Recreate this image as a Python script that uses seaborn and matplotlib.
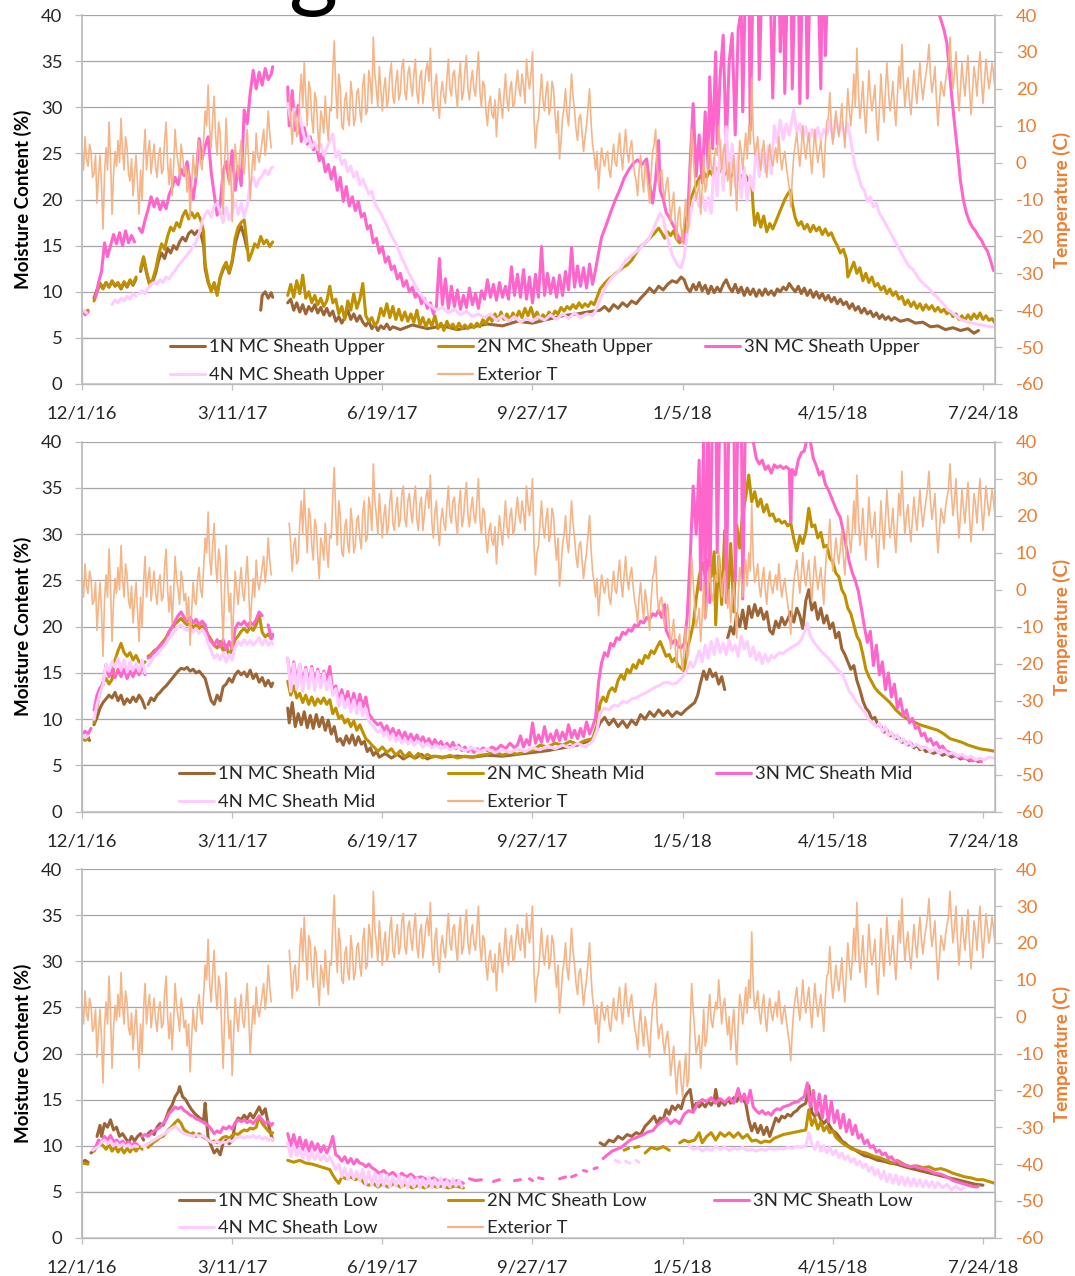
import numpy as np
import pandas as pd
import matplotlib.pyplot as plt
from matplotlib.lines import Line2D
from matplotlib.patches import Rectangle
import seaborn as sns

nan = np.nan

# x axis: days since 12/1/16, labels every 100 days
tick_days = [0, 100, 200, 300, 400, 500, 600]
tick_labels = ['12/1/16', '3/11/17', '6/19/17', '9/27/17', '1/5/18', '4/15/18', '7/24/18']

# Exterior temperature (C), readings on even days (0, 2, 4, ...) from 12/1/16
ext_t = [3, 7, -1, 3, -3, -11, 2, -18, 4, 11,
         -14, 3, 6, 12, -2, 4, -5, -9, 2, -14,
         -10, 9, 3, -3, 5, -4, 4, -2, 11, -6,
         -9, 9, 0, 5, -3, -8, -15, 2, -4, 6,
         -2, 14, 21, 4, 18, 2, 8, -14, 12, -6,
         -16, 5, -4, 6, -3, 9, -10, 3, 8, 0,
         6, 2, 14, 4, nan, nan, nan, nan, nan, 18,
         5, 14, 8, 24, 27, 10, 20, 8, 17, 3,
         12, 18, 6, 14, 33, 12, 20, 9, 19, 10,
         18, 12, 20, 11, 24, 14, 22, 34, 20, 26,
         14, 23, 17, 27, 16, 25, 19, 28, 17, 26,
         18, 28, 16, 25, 20, 27, 31, 14, 24, 12,
         22, 16, 28, 18, 25, 15, 27, 19, 29, 17,
         25, 18, 30, 15, 21, 10, 18, 12, 7, 20,
         12, 24, 14, 22, 16, 25, 18, 21, 28, 20,
         30, 4, 12, 24, 14, 22, 15, 20, 8, 1,
         12, 20, 10, 24, 14, 6, 13, 3, 10, 20,
         5, -2, -7, 4, -1, 3, -4, 5, -1, 8,
         -2, 9, 0, 6, -3, -9, 2, -8, -3, -11,
         3, 9, -6, -2, -10, -4, -16, -8, -21, -12,
         -22, -10, -17, 9, -4, -8, -14, 2, -6, 6,
         -3, 4, 10, -2, 5, -5, -9, 2, -13, 6,
         -2, 8, 10, 23, 2, 7, -2, 6, -4, 5,
         -1, 4, 7, -2, 3, -4, -12, 2, 8, -1,
         10, 1, 8, -3, 9, 0, 6, -4, 11, 19,
         5, 14, 7, 16, 4, 20, 10, 24, 31, 12,
         22, 8, 25, 14, 21, 6, 24, 11, 27, 14,
         22, 10, 26, 32, 15, 23, 13, 25, 16, 27,
         17, 24, 32, 19, 26, 10, 22, 18, 25, 34,
         20, 30, 14, 27, 18, 29, 13, 26, 18, 30,
         16, 28, 20, 27, 20]

# Exterior temperature (C), readings on odd days (1, 3, 5, ...)
ext_t_odd = [-2, 1, 5, -4, 2, -4, -6, -3, -2, 1,
             -3, -1, 0, 3, 7, -3, 1, -3, -6, -2,
             2, -2, 6, 1, -1, 2, -3, 6, 0, 1,
             -1, 3, -4, 2, -1, -2, -6, -3, 3, 0,
             6, 10, 9, 12, 7, 11, -3, 0, 2, -1,
             -5, 0, 2, -1, 3, 0, -3, -2, 2, 3,
             9, 6, 8, nan, nan, nan, nan, nan, nan, 12,
             12, 7, 18, 15, 18, 22, 12, 19, 9, 14,
             8, 11, 15, 25, 20, 24, 10, 17, 12, 22,
             10, 19, 14, 21, 13, 25, 16, 24, 15, 20,
             20, 15, 24, 18, 22, 17, 26, 19, 24, 21,
             24, 19, 23, 16, 25, 22, 18, 21, 16, 19,
             18, 23, 20, 24, 19, 23, 17, 25, 20, 22,
             20, 24, 19, 22, 14, 16, 13, 17, 14, 16,
             18, 17, 20, 15, 21, 20, 24, 16, 23, 24,
             12, 10, 18, 17, 19, 13, 22, 13, 14, 6,
             15, 13, 17, 18, 9, 12, 8, 7, 15, 11,
             2, 3, -1, 1, 2, -2, 1, 0, 4, 2,
             4, 3, 4, 1, -5, -2, -4, 0, -7, -3,
             5, -1, -3, -7, -6, -9, -12, -15, -14, -18,
             -15, -19, -3, 2, -10, -5, -7, -8, 1, -1,
             1, 2, 4, 3, -1, 0, -3, -5, -2, 3,
             3, 1, 5, 8, 4, 1, 3, 0, 2, 1,
             2, 0, 2, 1, -1, -7, -4, 5, 3, 4,
             4, 5, 2, 3, 4, 3, 1, 5, 12, 10,
             9, 10, 11, 9, 12, 14, 16, 15, 20, 16,
             14, 16, 18, 17, 12, 14, 17, 19, 20, 17,
             15, 18, 20, 22, 20, 17, 19, 20, 22, 21,
             21, 27, 24, 22, 17, 16, 20, 22, 27, 26,
             24, 21, 20, 22, 24, 20, 19, 23, 25, 22,
             22, 24, 23, 24]

# Moisture content (%), (day, value) pairs, nan = no data
u1 = [(0, 8.0), (2, 7.6), (4, 7.9), (5, nan),
      (8, 9.3), (10, 10.2), (12, 10.9), (14, 10.4), (16, 11.0), (18, 10.5), (20, 11.1), (22, 10.6), (24, 10.9),
      (26, 10.3), (28, 11.0), (30, 10.5), (32, 11.2), (34, 10.7), (36, 11.4), (37.5, nan),
      (39, 12.2), (41, 13.6), (43, 12.0), (45, 10.8), (47, 11.1), (49, 12.0), (51, 13.4), (53, 14.2), (55, 13.6),
      (57, 14.7), (59, 14.2), (61, 15.0), (63, 14.6), (65, 15.4), (67, 15.9), (69, 15.5), (71, 16.3), (73, 16.6),
      (75, 16.2), (77, 16.6), (79, 16.4), (81, 15.0), (82, 12.5), (84, 11.0), (86, 10.2), (88, 10.9), (90, 9.8),
      (92, 11.5), (94, 12.4), (96, 13.0), (98, 12.0), (100, 13.2), (102, 15.2), (104, 16.4), (106, 17.1),
      (108, 16.0), (110, 14.6), (111, nan),
      (119, 8.0), (120, 9.6), (122, 10.0), (124, 9.3), (126, 9.9), (127, 9.4), (128, nan),
      (137, 8.8), (139, 9.2), (141, 8.0), (143, 8.8), (145, 7.8), (147, 8.6), (149, 7.6), (151, 8.4), (153, 7.9),
      (155, 8.6), (157, 7.7), (159, 8.3), (161, 7.5), (163, 8.2), (165, 7.4), (167, 7.9), (169, 6.8), (171, 7.3),
      (173, 6.6), (175, 7.2), (177, 8.0), (179, 7.0), (181, 7.6), (183, 6.8), (185, 7.4), (187, 6.7), (189, 6.3),
      (191, 6.8), (193, 6.0), (195, 6.5), (197, 5.8), (199, 6.3), (201, 6.0), (203, 6.5), (205, 5.9), (207, 6.2),
      (212, 5.9), (220, 6.4), (230, 6.0), (240, 6.3), (250, 5.9), (260, 6.2), (270, 6.5), (280, 6.3), (290, 6.8),
      (300, 6.6), (310, 7.0), (320, 7.4), (330, 7.6), (340, 7.9),
      (345, 8.0), (348, 8.4), (351, 7.9), (354, 8.6), (357, 8.2), (360, 8.8), (363, 8.4), (366, 9.0), (369, 8.7),
      (372, 9.3), (375, 9.8), (378, 10.4), (381, 9.9), (384, 10.6), (387, 10.2), (390, 10.8), (393, 11.2),
      (396, 11.0), (399, 11.6), (401, 11.3), (403, 10.4), (405, 10.0), (407, 10.8), (409, 10.2), (411, 11.0),
      (413, 10.1), (415, 10.7), (417, 9.8), (419, 10.6), (421, 9.9), (423, 10.5), (425, 10.0), (427, 10.8),
      (429, 11.3), (431, 10.5), (433, 10.0), (435, 10.8), (437, 9.9), (439, 10.5), (441, 9.6), (443, 10.4),
      (445, 9.7), (447, 10.3), (449, 9.5), (451, 10.2), (453, 9.6), (455, 10.3), (457, 9.7), (459, 10.1),
      (461, 9.6), (463, 10.3), (465, 10.0), (467, 10.5), (469, 10.2), (471, 10.9), (473, 10.4), (475, 10.0),
      (477, 10.6), (479, 9.8), (481, 10.4), (483, 9.6), (485, 10.2), (487, 9.4), (489, 10.0), (491, 9.3),
      (493, 9.8), (495, 9.1), (497, 9.6), (499, 8.9), (501, 9.4), (503, 8.7), (505, 9.2), (507, 8.6), (509, 8.9),
      (511, 8.2), (513, 8.7), (515, 8.0), (517, 8.4), (519, 7.7), (521, 8.2), (523, 7.6), (525, 7.9), (527, 7.3),
      (529, 7.7), (531, 7.1), (533, 7.5), (535, 7.0), (537, 7.3), (539, 6.9), (541, 7.2), (545, 6.8), (550, 7.0),
      (555, 6.6), (560, 6.7), (565, 6.2), (570, 6.3), (575, 5.9), (580, 6.1), (585, 5.8), (590, 6.0), (594, 5.5),
      (597, 5.8)]

u2 = [(0, 8.0), (2, 7.7), (4, 8.0), (5, nan),
      (8, 9.0), (10, 10.0), (12, 10.8), (14, 10.3), (16, 11.0), (18, 10.5), (20, 11.2), (22, 10.7), (24, 11.0),
      (26, 10.4), (28, 11.1), (30, 10.6), (32, 11.3), (34, 10.8), (36, 11.6), (37.5, nan),
      (39, 12.5), (41, 13.8), (43, 12.2), (45, 10.9), (47, 11.3), (49, 12.4), (51, 14.0), (53, 15.2), (55, 14.6),
      (57, 16.0), (59, 17.0), (61, 16.6), (63, 17.5), (65, 17.0), (67, 18.2), (69, 18.8), (71, 17.9), (73, 18.6),
      (75, 18.0), (77, 18.5), (79, 17.8), (81, 16.5), (82, 13.0), (84, 11.2), (86, 10.0), (88, 11.0), (90, 9.6),
      (92, 11.6), (94, 12.6), (96, 13.2), (98, 12.1), (100, 13.4), (102, 15.8), (104, 17.0), (106, 17.5),
      (108, 17.8), (109, 16.5), (111, 13.4), (113, 14.2), (115, 15.2), (117, 14.8), (119, 16.0), (121, 15.2),
      (123, 15.6), (125, 14.9), (127, 15.4), (128, nan),
      (137, 9.6), (139, 10.8), (141, 9.4), (143, 11.2), (145, 9.8), (147, 11.8), (149, 9.3), (151, 10.0),
      (153, 8.8), (155, 9.6), (157, 8.6), (159, 9.3), (161, 8.4), (163, 9.0), (165, 10.6), (167, 8.8), (169, 9.2),
      (171, 7.6), (173, 8.4), (175, 7.0), (177, 9.0), (179, 8.0), (181, 9.8), (183, 8.2), (185, 9.2), (187, 10.9),
      (189, 7.4), (191, 6.8), (193, 7.2), (195, 6.3), (197, 6.8), (199, 8.2), (201, 7.4), (203, 8.7), (205, 7.2),
      (207, 8.4), (209, 7.0), (211, 8.1), (213, 6.9), (215, 7.8), (217, 6.8), (219, 7.6), (221, 6.7), (223, 8.0),
      (225, 6.4), (227, 7.2), (229, 6.2), (231, 7.0), (233, 6.3), (235, 7.4), (237, 6.0), (239, 6.6), (241, 5.8),
      (243, 6.8), (245, 6.1), (247, 6.5), (249, 5.9), (251, 6.6), (253, 6.0), (255, 6.4), (257, 6.0), (259, 6.5),
      (261, 6.1), (263, 6.6), (265, 6.2), (267, 7.0), (269, 6.5), (271, 7.3), (273, 6.8), (275, 7.6), (277, 6.9),
      (279, 7.8), (281, 7.0), (283, 7.6), (285, 6.9), (287, 7.7), (289, 7.1), (291, 7.9), (293, 7.2), (295, 8.2),
      (297, 7.4), (299, 8.3), (301, 7.2), (303, 7.8), (305, 7.0), (307, 7.5), (309, 7.1), (311, 7.8), (313, 7.3),
      (315, 7.9), (317, 7.6), (319, 8.3), (321, 7.9), (323, 8.4), (325, 8.1), (327, 8.6), (329, 8.2), (331, 8.8),
      (333, 8.3), (335, 8.7), (337, 8.4), (339, 8.9), (341, 8.6), (343, 9.4), (345, 10.3), (348, 10.9),
      (351, 11.4), (354, 11.8), (357, 12.2), (360, 12.6), (363, 12.9), (366, 13.4), (369, 14.2), (372, 14.9),
      (375, 15.3), (378, 15.8), (381, 16.3), (384, 16.9), (386, 16.4), (388, 15.8), (390, 16.5), (392, 16.1),
      (394, 16.6), (396, 15.7), (398, 15.3), (400, 16.0), (402, 17.5), (404, 19.0), (406, 20.3), (408, 21.2),
      (410, 22.0), (412, 22.6), (414, 23.0), (416, 22.4), (418, 23.1), (420, 22.6), (422, 23.4), (424, 22.9),
      (426, 23.3), (428, 22.7), (430, 23.1), (432, 22.5), (434, 22.9), (436, 22.3), (438, 22.7), (440, 22.2),
      (442, 22.6), (444, 22.0), (446, 21.7), (447, 19.0), (448, 17.2), (450, 18.5), (452, 17.0), (454, 18.2),
      (456, 16.5), (458, 17.4), (460, 16.8), (462, 17.6), (464, 18.4), (466, 19.2), (468, 20.0), (470, 20.6),
      (472, 21.0), (473, 19.5), (475, 18.0), (477, 17.2), (479, 17.6), (481, 16.8), (483, 17.3), (485, 16.5),
      (487, 17.2), (489, 16.6), (491, 17.0), (493, 16.2), (495, 16.8), (497, 16.1), (499, 16.4), (501, 15.6),
      (503, 15.0), (505, 14.2), (507, 14.6), (509, 13.6), (510, 11.6), (512, 12.4), (514, 13.2), (516, 12.0),
      (518, 12.6), (520, 11.2), (522, 12.0), (524, 11.0), (526, 11.6), (528, 10.6), (530, 10.9), (532, 10.2),
      (534, 10.6), (536, 9.8), (538, 10.3), (540, 9.6), (542, 10.0), (544, 9.2), (546, 9.5), (548, 8.6),
      (550, 9.1), (552, 8.4), (554, 8.9), (556, 8.2), (558, 8.7), (560, 8.0), (562, 8.6), (564, 8.1), (566, 8.5),
      (568, 7.9), (570, 8.3), (572, 7.8), (574, 8.1), (576, 7.6), (578, 7.9), (580, 7.3), (582, 7.6), (584, 7.0),
      (586, 7.4), (588, 6.9), (590, 7.5), (592, 7.0), (594, 7.6), (596, 7.1), (598, 7.7), (600, 7.0), (602, 7.4),
      (604, 6.9), (606, 7.1), (608, 6.6)]

u3 = [(0, 8.0), (2, 7.5), (4, 7.8), (5, nan),
      (9, 9.4), (11, 11.0), (13, 12.2), (15, 15.3), (17, 13.8), (19, 15.0), (21, 16.2), (23, 15.2), (25, 16.4),
      (27, 15.0), (29, 16.6), (31, 15.3), (33, 16.1), (35, 15.4), (36.5, nan),
      (38, 16.9), (40, 16.4), (42, 17.8), (44, 18.9), (46, 20.3), (48, 19.2), (50, 20.1), (52, 18.9), (54, 19.8),
      (56, 19.0), (58, 20.5), (60, 21.3), (62, 22.4), (64, 21.6), (66, 23.3), (68, 22.6), (70, 24.1), (72, 21.8),
      (74, 20.0), (76, 22.5), (78, 26.6), (80, 24.4), (82, 25.8), (84, 26.8), (86, 23.0), (88, 20.6), (90, 18.3),
      (92, 19.5), (94, 23.0), (96, 24.1), (98, 22.0), (100, 25.3), (102, 21.0), (104, 23.6), (106, 21.5),
      (108, 29.7), (110, 28.2), (112, 31.5), (114, 34.0), (116, 32.0), (118, 33.8), (120, 32.4), (122, 34.2),
      (124, 33.0), (126, 33.6), (127, 34.4), (128, nan),
      (137, 32.2), (138, 28.0), (140, 31.8), (142, 27.5), (144, 30.2), (146, 26.3), (148, 27.8), (150, 26.0),
      (152, 26.8), (154, 25.4), (156, 25.8), (158, 24.2), (160, 25.0), (162, 23.0), (164, 23.8), (166, 22.2),
      (168, 23.5), (170, 21.0), (172, 22.4), (174, 19.8), (176, 21.4), (178, 19.3), (180, 20.3), (182, 18.8),
      (184, 19.8), (186, 18.1), (188, 18.5), (190, 16.8), (192, 17.2), (194, 15.3), (196, 15.8), (198, 14.2),
      (200, 14.9), (202, 13.2), (204, 13.8), (206, 12.4), (208, 12.8), (210, 11.4), (212, 12.0), (214, 10.6),
      (216, 11.2), (218, 10.0), (220, 10.5), (222, 9.4), (224, 9.9), (226, 8.7), (228, 9.3), (230, 8.2),
      (232, 8.8), (234, 7.6), (236, 8.4), (238, 13.6), (240, 8.6), (242, 11.4), (244, 8.2), (246, 10.6),
      (248, 8.4), (250, 10.2), (252, 8.1), (254, 9.6), (256, 8.3), (258, 10.4), (260, 8.6), (262, 9.8),
      (264, 8.2), (266, 10.1), (268, 9.2), (270, 11.3), (272, 9.4), (274, 10.8), (276, 9.1), (278, 11.0),
      (280, 9.4), (282, 10.6), (284, 9.2), (286, 12.7), (288, 9.6), (290, 11.9), (292, 9.4), (294, 12.4),
      (296, 9.2), (298, 11.6), (300, 8.8), (302, 11.9), (304, 9.4), (306, 14.9), (308, 9.6), (310, 12.0),
      (312, 9.8), (314, 11.5), (316, 9.4), (318, 11.8), (320, 9.6), (322, 12.2), (324, 10.2), (326, 14.8),
      (328, 10.5), (330, 12.8), (332, 10.6), (334, 12.6), (336, 10.4), (338, 13.0), (340, 10.8), (342, 12.4),
      (344, 14.2), (346, 15.9), (349, 17.2), (352, 18.6), (355, 19.9), (358, 21.0), (361, 22.3), (364, 23.2),
      (367, 23.9), (370, 24.3), (373, 23.8), (376, 24.4), (378, 21.7), (380, 19.6), (382, 22.2), (384, 26.4),
      (385, 21.0), (387, 20.1), (389, 18.6), (391, 18.1), (393, 17.4), (395, 16.8), (397, 16.0), (399, 15.6),
      (401, 15.3), (403, 17.0), (405, 24.0), (407, 30.4), (409, 22.5), (411, 27.0), (413, 21.8), (415, 29.5),
      (417, 23.4), (418, 33.3), (420, 25.5), (422, 36.0), (423, 26.0), (425, 33.5), (427, 37.8), (429, 25.7),
      (431, 35.0), (433, 38.0), (435, 27.0), (437, 38.5), (439, 40.5), (440, 29.5), (442, 45), (444, 45),
      (445, 27.5), (447, 45), (450, 45), (451, 33), (453, 45), (458, 45), (460, 31), (462, 45), (464, 45),
      (465, 36), (467, 45), (468, 31.5), (470, 45), (472, 45), (473, 32), (475, 45), (477, 45), (478, 30.4),
      (480, 45), (482, 45), (483, 31), (485, 45), (490, 45), (492, 32), (493, 45), (494, 45), (495, 35.6),
      (497, 45), (568, 45), (571, 40), (574, 38.4), (576, 36.9), (579, 31.5), (581, 28.3), (583, 25.3),
      (585, 22.0), (587, 19.9), (589, 18.5), (591, 17.6), (593, 17.0), (595, 16.6), (597, 16.0), (599, 15.6),
      (601, 14.9), (603, 14.4), (605, 13.4), (607, 12.3)]

u4 = [(0, 8.1), (3, 7.7), (4, nan),
      (20, 8.6), (22, 9.1), (24, 8.8), (26, 9.3), (28, 9.0), (30, 9.5), (32, 9.2), (34, 9.8), (36, 9.5), (37, nan),
      (38, 9.8), (40, 10.1), (42, 9.8), (44, 10.4), (46, 10.8), (48, 11.0), (50, 10.8), (52, 11.3), (54, 11.0),
      (56, 11.6), (58, 11.4), (60, 11.9), (62, 12.3), (64, 12.8), (66, 13.2), (68, 13.6), (70, 14.0), (72, 14.4),
      (74, 14.9), (76, 15.4), (78, 16.3), (80, 17.6), (82, 18.4), (84, 18.8), (86, 18.1), (88, 19.3), (90, 19.6),
      (92, 18.6), (94, 17.5), (96, 19.2), (98, 17.8), (100, 18.6), (102, 19.9), (104, 18.4), (106, 19.6),
      (108, 18.1), (110, 19.4), (112, 21.8), (114, 22.4), (116, 21.4), (118, 22.2), (120, 22.6), (122, 23.2),
      (124, 22.7), (126, 23.4), (127, 23.5), (128, nan),
      (137, 30.4), (139, 28.6), (141, 29.8), (143, 28.0), (145, 29.2), (147, 27.4), (149, 26.2), (151, 26.8),
      (153, 25.6), (155, 26.2), (157, 25.4), (159, 26.0), (161, 24.8), (163, 25.6), (165, 26.4), (167, 27.1),
      (169, 24.6), (171, 25.2), (173, 23.8), (175, 24.3), (177, 23.0), (179, 23.6), (181, 22.4), (183, 23.0),
      (185, 21.6), (187, 22.2), (189, 21.4), (191, 20.6), (193, 20.9), (195, 19.6), (197, 19.0), (199, 18.5),
      (201, 17.8), (203, 17.2), (205, 16.4), (207, 15.8), (209, 15.2), (211, 14.4), (213, 13.6), (215, 13.0),
      (217, 12.2), (219, 11.6), (221, 11.0), (223, 10.4), (225, 9.8), (227, 9.4), (229, 8.9), (231, 8.6),
      (233, 8.4), (236, 8.0), (240, 8.3), (244, 7.7), (248, 8.1), (252, 7.5), (256, 7.9), (260, 7.3), (264, 7.6),
      (268, 7.2), (272, 7.6), (276, 6.9), (280, 7.4), (284, 6.8), (288, 7.3), (292, 6.7), (296, 7.1), (300, 6.8),
      (304, 7.3), (308, 6.9), (312, 7.5), (316, 7.0), (320, 7.6), (324, 7.1), (328, 7.7), (332, 7.2), (336, 7.6),
      (340, 7.4), (343, 8.2), (345, 9.1), (347, 10.0), (350, 10.9), (353, 11.6), (356, 12.0), (359, 12.6),
      (362, 13.4), (365, 13.8), (368, 14.2), (371, 14.6), (374, 15.2), (377, 15.6), (380, 16.6), (383, 17.8),
      (385, 18.5), (387, 18.0), (389, 16.4), (391, 15.2), (393, 14.0), (395, 13.4), (397, 12.8), (399, 12.6),
      (401, 13.8), (403, 16.3), (405, 18.2), (407, 19.9), (409, 20.6), (411, 19.2), (413, 20.4), (415, 18.8),
      (417, 20.2), (419, 18.5), (421, 24.5), (423, 20.4), (425, 26.4), (427, 21.0), (429, 27.9), (431, 22.4),
      (433, 26.0), (435, 21.4), (437, 24.8), (439, 20.2), (441, 23.5), (443, 19.9), (445, 22.6), (447, 21.0),
      (449, 26.0), (451, 22.5), (453, 25.4), (455, 23.0), (457, 25.8), (459, 22.8), (461, 28.0), (463, 26.2),
      (465, 28.6), (467, 26.5), (469, 28.2), (471, 27.0), (473, 28.8), (474, 29.7), (476, 27.2), (478, 28.2),
      (480, 26.8), (482, 27.9), (484, 26.4), (486, 27.6), (488, 26.6), (490, 27.8), (492, 26.5), (494, 27.6),
      (496, 27.0), (498, 28.6), (500, 26.6), (502, 29.0), (504, 27.2), (506, 28.4), (508, 26.8), (510, 28.2),
      (512, 26.4), (513, 25.3), (515, 23.5), (517, 22.6), (519, 21.4), (521, 21.0), (523, 19.8), (525, 20.3),
      (527, 19.2), (529, 19.6), (531, 18.5), (533, 18.0), (535, 17.4), (537, 16.8), (539, 16.2), (541, 15.6),
      (543, 15.0), (545, 14.4), (547, 13.8), (549, 13.2), (551, 12.7), (553, 12.5), (555, 12.0), (557, 11.5),
      (559, 11.1), (561, 10.8), (563, 10.5), (565, 10.2), (567, 9.7), (569, 9.5), (571, 9.1), (573, 8.8),
      (575, 8.4), (577, 8.0), (579, 7.8), (581, 7.5), (583, 7.3), (585, 7.0), (587, 6.9), (590, 6.7), (593, 6.6),
      (596, 6.5), (599, 6.4), (602, 6.3), (605, 6.2), (608, 6.2)]

m1 = [(0, 8.3), (2, 7.9), (4, 8.1), (5, 7.7), (6, nan),
      (8, 9.4), (10, 10.2), (12, 11.2), (14, 11.8), (16, 12.2), (18, 12.6), (20, 12.3), (22, 12.9), (24, 12.0),
      (26, 12.6), (28, 11.6), (30, 12.2), (32, 11.8), (34, 12.4), (36, 11.9), (38, 12.6), (40, 12.1), (42, 11.2),
      (43, nan),
      (44, 11.6), (46, 12.3), (48, 12.0), (50, 12.6), (52, 12.9), (54, 13.3), (56, 13.6), (58, 14.0), (60, 14.4),
      (62, 14.8), (64, 15.2), (66, 15.5), (68, 15.4), (70, 15.6), (72, 15.2), (74, 15.4), (76, 15.0), (78, 15.2),
      (80, 14.8), (82, 14.4), (84, 13.2), (86, 12.0), (88, 11.6), (90, 12.6), (92, 12.0), (94, 13.5), (96, 13.8),
      (98, 14.4), (100, 14.0), (102, 14.8), (104, 15.2), (106, 14.8), (108, 15.1), (110, 14.6), (112, 15.3),
      (114, 14.4), (116, 14.9), (118, 14.0), (120, 14.5), (122, 13.6), (124, 14.2), (126, 13.5), (127, 13.9),
      (128, nan),
      (137, 11.2), (138, 9.6), (140, 11.8), (142, 9.2), (144, 10.6), (146, 9.4), (148, 10.8), (150, 9.1),
      (152, 10.4), (154, 9.0), (156, 10.5), (158, 9.2), (160, 10.2), (162, 8.8), (164, 9.9), (166, 8.4),
      (168, 9.2), (170, 7.6), (172, 7.9), (174, 7.2), (176, 8.2), (178, 7.4), (180, 8.3), (182, 7.2), (184, 8.1),
      (186, 7.3), (188, 7.6), (190, 6.5), (192, 6.9), (194, 6.1), (196, 6.5), (198, 5.9), (202, 6.3), (206, 5.8),
      (210, 6.2), (214, 5.7), (218, 6.1), (222, 5.8), (226, 6.2), (230, 5.7), (234, 6.0), (240, 5.9), (250, 6.0),
      (260, 5.9), (270, 6.1), (280, 6.0), (290, 6.2), (300, 6.4), (310, 6.6), (320, 6.9), (330, 7.2), (340, 7.8),
      (345, 9.6), (348, 10.2), (351, 9.4), (354, 10.0), (357, 9.2), (360, 9.8), (363, 9.1), (366, 9.9),
      (369, 9.4), (372, 10.5), (375, 10.0), (378, 10.8), (381, 10.3), (384, 11.0), (387, 10.4), (390, 10.9),
      (393, 10.3), (396, 10.8), (399, 10.5), (402, 11.0), (405, 11.4), (408, 11.8), (410, 12.6), (412, 14.0),
      (414, 15.2), (416, 14.3), (418, 15.4), (420, 14.6), (422, 15.0), (424, 13.8), (426, 14.6), (428, 13.2),
      (429, nan),
      (430, 18.8), (432, 20.0), (434, 19.2), (436, 21.4), (438, 20.0), (440, 21.8), (442, 19.8), (444, 22.2),
      (446, 21.0), (448, 22.4), (450, 21.2), (452, 22.0), (454, 20.8), (456, 21.6), (458, 19.6), (460, 19.2),
      (462, 20.6), (464, 19.9), (466, 21.0), (468, 20.2), (470, 20.8), (472, 21.6), (474, 20.5), (476, 22.0),
      (478, 21.2), (480, 19.8), (482, 22.8), (484, 24.0), (486, 21.8), (488, 22.6), (490, 20.8), (492, 22.0),
      (494, 20.4), (496, 21.2), (498, 19.8), (500, 20.4), (502, 18.8), (504, 19.4), (506, 17.6), (508, 17.0),
      (510, 16.2), (512, 15.4), (514, 15.8), (516, 14.2), (518, 13.2), (520, 12.0), (522, 11.2), (524, 10.8),
      (526, 10.0), (528, 10.2), (530, 9.4), (532, 9.2), (534, 8.6), (536, 8.8), (538, 8.2), (540, 8.3),
      (542, 7.9), (544, 8.0), (546, 7.5), (548, 7.6), (550, 7.2), (552, 7.4), (554, 6.9), (556, 7.2), (558, 6.7),
      (560, 6.9), (562, 6.5), (564, 6.6), (567, 6.3), (570, 6.5), (573, 6.1), (576, 6.3), (579, 5.9), (582, 6.1),
      (585, 5.7), (588, 5.9), (591, 5.5), (594, 5.7), (597, 5.4), (599, 5.6)]

m2 = [(0, 8.0), (2, 7.7), (4, 7.9), (5, nan),
      (8, 9.6), (10, 11.4), (12, 13.0), (14, 14.0), (16, 14.4), (18, 13.8), (20, 14.3), (22, 16.4), (24, 17.4),
      (26, 18.2), (28, 17.2), (30, 16.8), (32, 17.2), (34, 16.4), (36, 16.9), (38, 16.2), (40, 15.9), (42, 16.2),
      (43, nan),
      (44, 16.8), (46, 17.0), (48, 17.4), (50, 17.6), (52, 18.0), (54, 18.4), (56, 18.8), (58, 19.5), (60, 19.9),
      (62, 20.3), (64, 20.6), (66, 20.9), (68, 20.5), (70, 20.2), (72, 20.4), (74, 19.9), (76, 20.2), (78, 19.8),
      (80, 20.1), (82, 19.8), (84, 19.1), (86, 18.6), (88, 18.0), (90, 17.7), (92, 18.4), (94, 17.4), (96, 18.0),
      (98, 16.9), (100, 17.6), (102, 18.6), (104, 19.0), (106, 19.5), (108, 19.8), (110, 19.4), (112, 20.0),
      (114, 19.6), (116, 20.2), (118, 21.3), (120, 19.4), (122, 18.9), (124, 19.2), (126, 18.7), (127, 19.0),
      (128, nan),
      (137, 14.1), (139, 12.6), (141, 13.6), (143, 12.3), (145, 12.8), (147, 11.8), (149, 12.6), (151, 11.6),
      (153, 12.4), (155, 11.5), (157, 12.2), (159, 11.7), (161, 12.3), (163, 11.6), (165, 12.1), (167, 10.6),
      (169, 11.2), (171, 10.1), (173, 10.4), (175, 9.6), (177, 10.0), (179, 9.2), (181, 9.8), (183, 8.8),
      (185, 9.4), (187, 8.6), (189, 7.9), (191, 7.6), (193, 7.2), (195, 6.9), (197, 6.5), (200, 7.0), (203, 6.4),
      (206, 6.8), (209, 6.1), (212, 6.6), (215, 5.9), (218, 6.4), (221, 5.8), (224, 6.3), (227, 5.8), (230, 6.2),
      (233, 5.9), (236, 6.0), (240, 5.8), (245, 6.1), (250, 5.8), (255, 6.0), (260, 5.9), (265, 6.1), (270, 6.2),
      (275, 6.5), (280, 6.1), (285, 6.4), (290, 6.2), (295, 6.5), (300, 6.6), (305, 7.2), (310, 7.0), (315, 7.4),
      (320, 7.2), (325, 7.6), (330, 7.3), (335, 7.7), (340, 7.9), (343, 9.4), (345, 11.7), (347, 12.4),
      (349, 11.9), (351, 13.0), (353, 13.4), (355, 13.0), (357, 14.2), (359, 14.8), (361, 14.3), (363, 15.4),
      (365, 15.0), (367, 15.9), (369, 15.5), (371, 16.4), (373, 16.0), (375, 16.9), (377, 16.6), (379, 17.4),
      (381, 17.1), (383, 17.8), (385, 18.4), (387, 17.6), (389, 16.8), (391, 17.0), (393, 16.2), (395, 16.6),
      (397, 15.8), (399, 15.5), (401, 15.2), (403, 17.6), (405, 18.8), (407, 20.2), (409, 23.0), (411, 25.4),
      (413, 26.9), (415, 25.6), (417, 27.2), (419, 25.4), (421, 28.1), (422, 20.2), (424, 27.6), (426, 22.4),
      (428, 30.4), (430, 23.0), (432, 29.0), (434, 21.6), (436, 31.0), (438, 28.5), (440, 32.4), (442, 34.0),
      (444, 36.4), (446, 33.5), (448, 34.6), (450, 33.0), (452, 33.8), (454, 32.4), (456, 33.2), (458, 32.0),
      (460, 32.2), (462, 31.4), (464, 31.6), (466, 31.2), (468, 31.4), (470, 30.9), (472, 31.2), (474, 29.5),
      (476, 28.2), (478, 29.8), (480, 29.0), (482, 30.2), (484, 32.8), (486, 30.8), (488, 31.0), (490, 29.6),
      (492, 30.2), (494, 28.6), (496, 28.8), (498, 27.4), (500, 27.0), (502, 25.8), (504, 25.4), (506, 24.0),
      (508, 23.4), (510, 22.0), (512, 21.4), (514, 20.2), (516, 19.0), (518, 18.4), (520, 17.0), (522, 15.4),
      (524, 14.6), (526, 14.0), (528, 13.4), (530, 13.0), (534, 12.4), (538, 11.8), (542, 11.0), (546, 10.4),
      (550, 10.0), (554, 9.7), (558, 9.4), (562, 9.2), (566, 9.0), (570, 8.8), (574, 8.4), (578, 7.9),
      (582, 7.7), (586, 7.5), (590, 7.2), (594, 7.0), (598, 6.8), (602, 6.7), (606, 6.6), (608, 6.5)]

m3 = [(0, 8.3), (2, 8.7), (4, 8.4), (6, 9.0), (7, nan),
      (8, 11.0), (10, 12.6), (12, 13.4), (14, 13.7), (16, 15.9), (18, 14.6), (20, 15.4), (22, 14.5), (24, 15.4),
      (26, 14.6), (28, 15.4), (30, 14.4), (32, 15.2), (34, 14.6), (36, 15.5), (38, 14.8), (40, 15.9), (42, 14.8),
      (43, nan),
      (44, 16.6), (46, 16.8), (48, 17.2), (50, 17.6), (52, 17.9), (54, 18.2), (56, 18.5), (58, 19.4), (60, 20.0),
      (62, 20.6), (64, 21.2), (66, 21.6), (68, 21.0), (70, 20.6), (72, 21.0), (74, 20.4), (76, 20.8), (78, 20.2),
      (80, 20.6), (82, 20.2), (84, 18.8), (86, 18.4), (88, 18.0), (90, 18.6), (92, 17.8), (94, 18.6), (96, 17.5),
      (98, 18.4), (100, 17.6), (102, 19.8), (104, 20.4), (106, 20.2), (108, 20.6), (110, 20.1), (112, 20.5),
      (114, 20.2), (116, 20.8), (118, 21.6), (120, 21.2), (121, nan),
      (124, 20.2), (126, 18.7), (127, 19.2), (128, nan),
      (137, 16.6), (139, 13.8), (141, 16.2), (143, 14.0), (145, 15.9), (147, 13.8), (149, 15.6), (151, 13.9),
      (153, 15.7), (155, 14.0), (157, 15.4), (159, 13.7), (161, 15.2), (163, 14.2), (165, 15.7), (167, 13.0),
      (169, 13.6), (171, 12.0), (173, 13.2), (175, 11.9), (177, 13.0), (179, 11.4), (181, 12.8), (183, 11.2),
      (185, 12.7), (187, 11.3), (189, 12.4), (191, 10.6), (193, 10.1), (195, 9.7), (197, 9.4), (199, 9.6),
      (201, 8.8), (203, 9.3), (205, 8.4), (207, 9.0), (209, 8.2), (211, 8.8), (213, 7.9), (215, 8.6), (217, 7.8),
      (219, 8.4), (221, 7.7), (223, 8.3), (225, 7.5), (227, 8.1), (229, 7.4), (231, 7.9), (233, 7.2), (235, 7.8),
      (237, 7.2), (239, 7.6), (241, 7.0), (243, 7.4), (245, 6.9), (247, 7.5), (249, 6.8), (251, 7.2), (253, 6.6),
      (255, 7.0), (257, 6.5), (259, 6.9), (261, 6.4), (263, 6.8), (265, 6.5), (267, 6.9), (270, 6.6), (273, 7.0),
      (276, 6.7), (279, 7.2), (282, 6.8), (285, 7.4), (288, 6.9), (290, 7.2), (292, 8.2), (294, 7.0), (296, 7.8),
      (298, 7.2), (300, 9.6), (302, 7.4), (304, 8.3), (306, 7.5), (308, 9.2), (310, 7.6), (312, 8.4), (314, 7.6),
      (316, 8.8), (318, 7.7), (320, 8.6), (322, 7.8), (324, 9.4), (326, 8.0), (328, 8.8), (330, 7.9), (332, 9.0),
      (334, 8.1), (336, 9.7), (338, 8.4), (340, 9.2), (342, 10.2), (344, 14.0), (346, 16.1), (348, 17.2),
      (350, 16.8), (352, 18.2), (354, 17.9), (356, 18.8), (358, 18.6), (360, 19.4), (362, 19.2), (364, 19.7),
      (366, 19.5), (368, 20.2), (370, 20.0), (372, 20.6), (374, 20.4), (376, 21.0), (378, 20.8), (380, 21.4),
      (382, 21.2), (384, 21.8), (386, 21.0), (388, 22.4), (389, 19.6), (391, 18.9), (393, 18.2), (395, 18.6),
      (397, 17.9), (399, 17.7), (401, 18.2), (403, 21.0), (405, 27.4), (407, 35.2), (409, 30.0), (411, 38.0),
      (412, 24.0), (414, 40.5), (415, 21.0), (417, 45), (418, 22.6), (420, 45), (422, 45), (423, 28.0),
      (425, 45), (428, 45), (429, 22.6), (431, 45), (434, 45), (435, 25.0), (437, 45), (439, 45), (440, 23.0),
      (442, 45), (445, 45), (447, 40.0), (449, 38.2), (451, 37.6), (453, 38.0), (455, 37.0), (457, 37.4),
      (459, 36.6), (461, 37.5), (463, 37.2), (465, 37.4), (467, 37.1), (469, 37.3), (471, 37.0), (472, 31.3),
      (473, 37.0), (475, 36.4), (477, 38.0), (479, 38.8), (481, 39.0), (483, 40.5), (485, 40.0), (487, 38.2),
      (489, 37.4), (491, 36.4), (493, 36.8), (495, 35.4), (497, 34.8), (499, 34.0), (501, 33.2), (503, 32.4),
      (505, 31.8), (507, 30.2), (509, 28.6), (511, 27.0), (513, 25.8), (515, 25.0), (517, 23.8), (519, 22.0),
      (521, 20.0), (523, 18.3), (525, 19.5), (527, 15.8), (529, 18.0), (531, 14.8), (533, 16.2), (535, 13.2),
      (537, 15.0), (539, 12.4), (541, 13.8), (543, 11.2), (545, 12.2), (547, 10.4), (549, 11.0), (551, 9.6),
      (553, 10.1), (555, 9.0), (557, 9.2), (559, 8.2), (561, 8.5), (563, 7.6), (565, 7.9), (567, 7.2),
      (569, 7.5), (571, 6.9), (573, 7.1), (575, 6.6), (578, 6.4), (581, 6.1), (584, 5.9), (587, 5.8), (590, 5.7),
      (593, 5.5), (596, 5.6), (599, 5.4)]

m4 = [(0, 8.3), (2, 8.0), (4, 8.2), (5, nan),
      (8, 10.0), (10, 11.6), (12, 12.8), (14, 13.7), (16, 15.9), (18, 15.2), (20, 16.2), (22, 15.6), (24, 16.6),
      (26, 15.4), (28, 16.4), (30, 15.1), (32, 16.2), (34, 15.3), (36, 16.0), (38, 15.2), (40, 16.4), (42, 15.0),
      (43, nan),
      (44, 15.8), (46, 16.2), (48, 16.8), (50, 17.0), (52, 17.4), (54, 17.8), (56, 18.2), (58, 18.8), (60, 19.1),
      (62, 19.6), (64, 20.0), (66, 20.2), (68, 19.8), (70, 19.6), (72, 19.9), (74, 19.4), (76, 19.8), (78, 19.3),
      (80, 19.7), (82, 19.2), (84, 18.2), (86, 17.4), (88, 16.6), (90, 17.0), (92, 16.4), (94, 17.2), (96, 16.2),
      (98, 17.0), (100, 16.4), (102, 17.8), (104, 18.4), (106, 18.0), (108, 18.6), (110, 18.1), (112, 18.5),
      (114, 18.0), (116, 18.4), (118, 18.8), (120, 18.0), (122, 18.6), (124, 18.0), (126, 18.4), (127, 18.1),
      (128, nan),
      (137, 16.6), (139, 13.0), (141, 16.0), (143, 13.2), (145, 15.9), (147, 13.0), (149, 15.4), (151, 13.3),
      (153, 15.5), (155, 13.1), (157, 15.2), (159, 13.4), (161, 15.0), (163, 13.2), (165, 14.6), (167, 12.6),
      (169, 13.3), (171, 11.4), (173, 12.6), (175, 11.2), (177, 12.2), (179, 10.8), (181, 12.1), (183, 10.6),
      (185, 11.8), (187, 10.4), (189, 11.2), (191, 9.8), (193, 9.4), (195, 9.0), (197, 8.6), (199, 8.9),
      (201, 8.2), (203, 8.6), (205, 7.8), (207, 8.4), (209, 7.6), (211, 8.1), (213, 7.4), (215, 7.9), (217, 7.3),
      (219, 7.7), (221, 7.2), (224, 7.6), (227, 7.0), (230, 7.4), (233, 6.9), (236, 7.2), (239, 6.8), (242, 7.1),
      (245, 6.7), (250, 7.0), (255, 6.6), (260, 6.9), (265, 6.5), (270, 6.8), (275, 6.4), (280, 6.7), (285, 6.4),
      (290, 6.8), (295, 6.5), (300, 6.9), (305, 6.7), (310, 7.1), (315, 6.8), (320, 7.2), (325, 6.9), (330, 7.4),
      (335, 7.0), (340, 7.6), (343, 8.8), (345, 10.7), (348, 11.2), (351, 11.0), (354, 11.5), (357, 11.4),
      (360, 11.9), (363, 11.8), (366, 12.2), (369, 12.3), (372, 12.6), (375, 12.8), (378, 13.1), (381, 13.4),
      (384, 13.6), (387, 13.9), (390, 14.0), (393, 13.8), (396, 13.9), (399, 14.4), (401, 14.8), (403, 15.4),
      (405, 16.2), (407, 15.6), (409, 16.4), (411, 17.4), (413, 16.2), (415, 18.0), (417, 16.6), (419, 18.4),
      (421, 17.0), (423, 18.7), (425, 17.2), (427, 18.2), (429, 17.0), (431, 18.6), (433, 17.4), (435, 18.0),
      (437, 16.8), (439, 19.0), (441, 17.6), (443, 18.4), (445, 16.8), (447, 17.8), (449, 16.4), (451, 17.2),
      (453, 16.0), (455, 17.0), (457, 16.2), (459, 16.9), (461, 16.6), (463, 17.0), (465, 17.2), (467, 17.1),
      (469, 17.4), (471, 17.6), (473, 17.8), (475, 18.0), (477, 18.2), (479, 18.6), (481, 19.4), (483, 20.4),
      (485, 19.0), (487, 18.4), (489, 18.0), (491, 17.6), (493, 17.2), (495, 16.9), (497, 16.6), (499, 16.2),
      (501, 15.8), (503, 15.4), (505, 15.1), (507, 14.6), (509, 13.8), (511, 13.0), (513, 12.6), (515, 12.0),
      (517, 11.6), (519, 11.2), (521, 10.8), (523, 10.2), (525, 9.8), (527, 9.5), (529, 9.2), (531, 9.6),
      (533, 8.6), (535, 9.2), (537, 8.2), (539, 8.6), (541, 7.9), (543, 8.3), (545, 7.5), (547, 7.9), (549, 7.2),
      (551, 7.6), (553, 7.0), (556, 7.3), (559, 6.8), (562, 7.0), (565, 6.5), (568, 6.8), (571, 6.3), (574, 6.6),
      (577, 6.2), (580, 6.4), (583, 6.0), (586, 6.2), (589, 5.8), (592, 6.0), (595, 5.6), (598, 5.8), (601, 5.6),
      (604, 5.9), (607, 5.8)]

l1 = [(0, 8.1), (2, 8.4), (4, 8.2), (5, nan),
      (6, 9.2), (8, 9.5), (9, nan),
      (10, 11.0), (12, 12.2), (13, 11.0), (15, 12.4), (17, 12.0), (19, 12.8), (21, 11.7), (23, 12.0), (25, 11.0),
      (27, 11.3), (29, 10.8), (31, 10.3), (33, 11.0), (35, 10.5), (37, 11.0), (39, 11.3), (41, 10.6), (42, nan),
      (44, 11.3), (46, 11.6), (48, 11.2), (50, 12.0), (52, 12.4), (54, 12.2), (56, 13.0), (58, 13.9), (60, 14.4),
      (62, 15.3), (64, 15.8), (65, 16.4), (67, 15.3), (69, 15.0), (71, 14.4), (73, 13.9), (75, 13.5), (77, 13.2),
      (79, 12.9), (81, 12.8), (82, 14.6), (84, 10.8), (86, 10.0), (88, 9.2), (90, 9.6), (92, 9.0), (94, 10.3),
      (96, 10.6), (98, 10.2), (100, 10.5), (102, 12.4), (104, 13.0), (106, 12.8), (108, 13.3), (110, 12.9),
      (112, 13.5), (114, 13.0), (116, 13.6), (118, 14.2), (120, 13.4), (122, 14.0), (123, 13.2), (125, 11.7),
      (127, 10.6), (128, nan),
      (345, 10.3), (348, 10.0), (351, 10.6), (354, 10.4), (357, 11.0), (360, 10.7), (363, 11.2), (366, 11.0),
      (369, 11.4), (372, 11.2), (375, 12.1), (378, 12.6), (381, 13.2), (383, 12.4), (385, 13.0), (387, 12.8),
      (389, 13.9), (391, 13.4), (393, 14.3), (395, 13.9), (397, 14.4), (399, 14.0), (401, 15.2), (403, 15.7),
      (405, 16.1), (407, 13.9), (409, 14.6), (411, 14.2), (413, 14.6), (415, 14.2), (417, 14.8), (419, 14.4),
      (421, 14.9), (422, 16.1), (424, 14.3), (426, 14.8), (428, 14.4), (430, 15.0), (432, 14.6), (434, 15.2),
      (436, 14.8), (438, 15.4), (440, 15.0), (442, 14.6), (444, 12.8), (446, 11.6), (448, 12.4), (450, 11.4),
      (452, 12.2), (454, 11.2), (456, 12.0), (458, 11.0), (460, 12.0), (462, 13.0), (464, 12.6), (466, 13.2),
      (468, 13.0), (470, 13.4), (472, 13.2), (474, 13.6), (476, 13.8), (478, 14.2), (480, 14.4), (482, 14.6),
      (484, 16.5), (486, 13.6), (488, 13.2), (490, 13.6), (492, 12.8), (494, 12.4), (496, 12.8), (498, 12.1),
      (500, 11.6), (502, 11.4), (504, 11.0), (506, 10.5), (508, 10.3), (510, 10.0), (512, 9.8), (514, 9.6),
      (516, 9.4), (518, 9.2), (521, 8.9), (524, 8.8), (527, 8.6), (530, 8.4), (534, 8.3), (538, 8.1), (542, 8.0),
      (546, 7.8), (550, 7.6), (555, 7.4), (560, 7.2), (565, 7.0), (570, 6.8), (575, 6.6), (580, 6.4), (585, 6.2),
      (590, 6.0), (595, 5.8), (600, 5.7)]

l2 = [(0, 8.1), (4, 8.0), (5, nan),
      (8, 9.4), (10, 9.9), (12, 10.3), (14, 10.0), (16, 9.6), (18, 10.1), (20, 9.4), (22, 9.9), (24, 9.3),
      (26, 9.8), (28, 9.2), (30, 9.7), (32, 9.3), (34, 9.8), (36, 9.4), (38, 9.9), (40, 9.6), (42, nan),
      (44, 9.8), (46, 10.1), (48, 10.4), (50, 10.6), (52, 10.9), (54, 11.0), (56, 11.4), (58, 11.8), (60, 12.1),
      (62, 12.5), (64, 12.8), (66, 12.4), (68, 11.7), (70, 11.5), (72, 11.2), (74, 11.4), (76, 11.0), (78, 11.3),
      (80, 11.0), (82, 10.8), (84, 10.6), (86, 10.4), (88, 10.5), (90, 10.3), (92, 10.6), (94, 10.9), (96, 11.0),
      (98, 10.8), (100, 11.1), (102, 11.3), (104, 11.2), (106, 11.5), (108, 11.7), (110, 11.6), (112, 11.9),
      (114, 11.8), (116, 12.0), (118, 13.2), (120, 12.4), (122, 12.0), (124, 11.6), (126, 11.3), (127, 11.4),
      (128, nan),
      (137, 8.4), (141, 8.2), (145, 8.4), (149, 8.1), (153, 8.0), (157, 7.8), (161, 7.6), (165, 7.4), (167, 6.8),
      (169, 6.3), (171, 5.9), (173, 6.6), (176, 6.4), (179, 6.6), (182, 6.3), (185, 6.5), (188, 5.9), (191, 5.7),
      (194, 5.9), (197, 5.5), (200, 5.8), (204, 5.5), (208, 5.9), (212, 5.5), (216, 5.8), (220, 5.4), (224, 5.7),
      (228, 5.4), (232, 5.7), (236, 5.5), (240, 5.6), (244, 5.4), (248, 5.6), (252, 5.5), (254, 5.4), (255, nan),
      (361, 9.5), (364, 9.7), (366, nan), (368, 9.8), (371, 9.9), (373, nan),
      (375, 9.2), (379, 9.8), (383, 9.6), (387, 9.9), (391, 9.5), (392, nan),
      (398, 10.3), (401, 10.6), (404, 10.4), (408, 10.6), (411, 11.4), (413, 10.3), (416, 11.0), (419, 11.4),
      (422, 10.6), (425, 11.4), (428, 11.0), (431, 11.4), (434, 10.9), (437, 11.4), (440, 10.8), (443, 11.2),
      (446, 10.5), (449, 10.6), (452, 10.3), (455, 10.5), (458, 10.4), (461, 10.8), (464, 11.0), (467, 11.2),
      (470, 11.3), (473, 11.4), (476, 11.5), (479, 11.6), (482, 11.7), (484, 13.9), (486, 12.2), (488, 13.0),
      (490, 11.8), (492, 12.6), (494, 11.6), (496, 12.1), (498, 11.4), (500, 11.6), (502, 10.9), (504, 10.6),
      (507, 10.2), (510, 9.9), (513, 9.6), (516, 9.5), (519, 9.3), (522, 9.2), (525, 9.0), (528, 8.8),
      (531, 8.7), (534, 8.5), (537, 8.3), (540, 8.1), (544, 8.3), (548, 7.9), (552, 7.7), (556, 7.8), (560, 7.6),
      (564, 7.7), (568, 7.4), (572, 7.5), (576, 7.3), (580, 7.0), (584, 6.8), (588, 6.6), (592, 6.5), (596, 6.3),
      (600, 6.3), (604, 6.1), (608, 5.9)]

l3 = [(7, 9.5), (9, 9.8), (11, 10.6), (13, 10.3), (15, 11.0), (17, 10.6), (19, 11.1), (21, 10.4), (23, 10.6),
      (25, 10.2), (27, 10.5), (29, 10.1), (31, 10.4), (33, 10.0), (35, 10.3), (37, 10.1), (38, nan),
      (40, 11.0), (42, 11.2), (44, 11.0), (46, 11.3), (48, 11.6), (50, 11.8), (52, 12.0), (54, 12.4), (56, 12.8),
      (58, 13.5), (60, 13.8), (62, 14.2), (64, 14.0), (66, 14.2), (68, 13.8), (70, 13.6), (72, 13.3), (74, 13.2),
      (76, 12.9), (78, 12.8), (80, 12.6), (82, 12.4), (84, 12.2), (86, 11.8), (88, 11.3), (90, 11.6), (92, 11.4),
      (94, 12.0), (96, 11.8), (98, 12.1), (100, 11.8), (102, 12.5), (104, 12.8), (106, 12.6), (108, 12.8),
      (110, 12.5), (112, 12.7), (114, 12.4), (116, 12.8), (118, 13.2), (120, 12.8), (122, 12.4), (124, 12.6),
      (126, 12.2), (127, 12.4), (128, nan),
      (137, 11.3), (139, 10.0), (141, 11.2), (143, 9.8), (145, 10.9), (147, 9.6), (149, 10.6), (151, 9.4),
      (153, 10.4), (155, 9.5), (157, 10.2), (159, 9.3), (161, 10.0), (163, 9.2), (165, 9.9), (167, 11.0),
      (169, 9.0), (171, 8.8), (173, 8.3), (175, 8.8), (177, 8.1), (179, 8.6), (181, 8.0), (183, 8.5), (185, 8.1),
      (187, 8.0), (189, 7.7), (191, 8.0), (193, 7.6), (195, 7.4), (198, 7.0), (201, 7.3), (204, 6.8), (207, 7.1),
      (210, 6.6), (213, 7.0), (216, 6.6), (219, 6.9), (222, 6.5), (226, 6.6), (230, 6.3), (234, 6.5), (238, 6.1),
      (242, 6.3), (246, 6.0), (250, 6.2), (254, 5.9), (255, nan),
      (258, 6.4), (262, 6.2), (266, 6.3), (267, nan), (274, 6.1), (278, 6.3), (279, nan),
      (288, 6.2), (292, 6.3), (293, nan), (298, 6.4), (300, 6.2), (301, nan), (304, 6.5), (307, 6.4), (308, nan),
      (318, 6.4), (322, 6.6), (323, nan), (326, 6.6), (329, 6.8), (330, nan), (334, 7.3), (336, 7.2), (337, nan),
      (341, 7.5), (343, 7.6), (344, nan),
      (347, 8.6), (350, 9.0), (353, 9.4), (356, 9.6), (359, 9.8), (362, 10.2), (365, 10.6), (368, 10.8),
      (371, 11.0), (374, 11.2), (377, 11.5), (380, 11.6), (383, 12.2), (386, 12.6), (389, 13.0), (392, 12.4),
      (395, 12.8), (398, 12.4), (401, 13.4), (404, 13.8), (407, 13.6), (410, 14.6), (413, 15.0), (416, 14.8),
      (419, 15.2), (422, 14.6), (425, 15.1), (428, 14.7), (431, 15.2), (434, 14.6), (437, 16.2), (439, 14.8),
      (441, 15.6), (443, 14.6), (445, 16.0), (447, 14.2), (449, 13.8), (451, 13.5), (453, 13.8), (455, 13.4),
      (457, 13.6), (459, 13.3), (461, 13.8), (463, 14.0), (465, 13.9), (467, 14.2), (469, 14.3), (471, 14.4),
      (473, 14.6), (475, 14.7), (477, 14.8), (479, 15.1), (481, 15.3), (483, 16.8), (485, 14.2), (487, 16.0),
      (489, 13.4), (491, 15.6), (493, 13.0), (495, 15.4), (497, 12.6), (499, 14.8), (501, 12.5), (503, 13.8),
      (505, 11.9), (507, 13.4), (509, 11.5), (511, 12.8), (513, 11.2), (515, 12.2), (517, 10.8), (519, 11.2),
      (521, 10.2), (523, 10.6), (525, 9.8), (527, 10.0), (529, 9.3), (531, 9.5), (533, 9.0), (535, 9.2),
      (537, 8.6), (539, 8.8), (541, 8.3), (543, 8.4), (545, 8.0), (548, 7.9), (551, 7.7), (554, 7.8), (557, 7.6),
      (560, 7.5), (564, 7.3), (568, 7.0), (572, 6.9), (576, 6.6), (580, 6.2), (584, 6.0), (588, 5.8), (592, 5.6),
      (596, 5.5), (597, 5.6)]

l4 = [(7, 9.5), (9, 9.7), (11, 9.9), (13, 10.4), (15, 10.6), (17, 10.2), (19, 10.5), (21, 10.0), (23, 10.3),
      (25, 9.9), (27, 10.2), (29, 9.9), (31, 10.1), (33, 9.8), (35, 10.0), (37, 9.9), (38, nan),
      (40, 9.9), (42, 10.0), (44, 10.2), (46, 10.4), (48, 10.6), (50, 10.8), (52, 11.0), (54, 11.2), (56, 11.4),
      (58, 11.7), (60, 11.9), (62, 12.1), (64, 11.8), (66, 11.5), (68, 11.3), (70, 11.2), (72, 11.1), (74, 11.0),
      (76, 11.2), (78, 11.0), (80, 11.1), (82, 10.9), (84, 10.6), (86, 10.4), (88, 10.3), (90, 10.5), (92, 10.2),
      (94, 10.4), (96, 10.3), (98, 10.6), (100, 10.4), (102, 10.8), (104, 10.9), (106, 11.0), (108, 10.8),
      (110, 11.0), (112, 10.9), (114, 11.1), (116, 10.8), (118, 11.0), (120, 10.7), (122, 10.9), (124, 10.6),
      (126, 10.8), (127, 10.6), (128, nan),
      (137, 10.3), (139, 8.8), (141, 10.0), (143, 8.9), (145, 9.6), (147, 8.6), (149, 9.5), (151, 8.4),
      (153, 9.3), (155, 8.5), (157, 9.2), (159, 8.4), (161, 9.0), (163, 8.3), (165, 8.8), (167, 8.1), (169, 7.4),
      (171, 8.0), (173, 6.6), (175, 7.6), (177, 6.3), (179, 7.4), (181, 6.4), (183, 7.2), (185, 6.2), (187, 7.4),
      (189, 5.8), (191, 7.2), (193, 5.7), (195, 7.0), (197, 5.6), (199, 6.9), (201, 5.6), (203, 6.8), (205, 5.5),
      (207, 6.6), (209, 5.6), (211, 6.8), (213, 5.5), (215, 6.5), (217, 5.4), (219, 6.6), (221, 5.5), (223, 6.5),
      (225, 5.4), (227, 6.4), (229, 5.5), (231, 6.6), (233, 5.4), (235, 6.3), (237, 5.5), (239, 6.5), (241, 5.4),
      (243, 6.2), (245, 5.5), (247, 6.4), (249, 5.6), (251, 6.2), (253, 5.5), (254, nan),
      (355, 8.4), (358, 8.2), (359, nan), (362, 8.3), (365, 8.1), (366, nan), (369, 8.4), (371, 8.2), (372, nan),
      (404, 10.0), (407, 9.6), (410, 9.8), (413, 9.4), (416, 9.7), (419, 9.5), (422, 9.9), (425, 9.6), (428, 9.8),
      (431, 9.5), (434, 9.7), (437, 9.6), (440, 9.8), (443, 9.5), (446, 9.6), (449, 9.4), (452, 9.6), (455, 9.5),
      (458, 9.7), (461, 9.6), (464, 9.7), (467, 9.6), (470, 9.8), (473, 9.7), (476, 9.9), (479, 9.8), (482, 10.0),
      (484, 11.4), (486, 10.2), (488, 9.6), (490, 10.4), (492, 9.4), (494, 10.0), (496, 9.2), (498, 9.8),
      (500, 9.0), (502, 9.5), (504, 8.7), (506, 9.2), (508, 8.5), (510, 8.9), (512, 8.2), (514, 8.6), (516, 7.9),
      (518, 8.3), (520, 7.6), (522, 8.0), (524, 7.2), (526, 7.7), (528, 6.8), (530, 7.4), (532, 6.4), (534, 7.2),
      (536, 6.1), (538, 6.9), (540, 5.9), (542, 6.8), (544, 5.8), (546, 6.6), (548, 5.7), (550, 6.5), (552, 5.6),
      (554, 6.4), (556, 5.6), (558, 6.3), (560, 5.5), (562, 6.2), (564, 5.5), (566, 6.1), (568, 5.4), (570, 6.0),
      (573, 5.4), (576, 5.8), (579, 5.2), (582, 5.6), (585, 5.2), (587, 5.4)]

levels = ['Upper', 'Mid', 'Low']
panel_series = [[u1, u2, u3, u4], [m1, m2, m3, m4], [l1, l2, l3, l4]]
colors = ['#9C6535', '#BF9000', '#FF66CC', '#FFCCFF']
t_color = '#F4B183'
axis_orange = '#ED7D31'


def to_frame(points, name, ycol):
    df = pd.DataFrame(points, columns=['day', ycol]).sort_values('day')
    df['seg'] = df[ycol].isna().cumsum()
    df = df.dropna()
    df['series'] = name
    return df


t_points = list(zip(range(0, 2 * len(ext_t), 2), ext_t)) + \
    list(zip(range(1, 2 * len(ext_t_odd), 2), ext_t_odd))
temp_df = to_frame(t_points, 'Exterior T', 't')

sns.set_style('white')
plt.rcParams['font.family'] = ['Lato', 'DejaVu Sans']
plt.rcParams['axes.unicode_minus'] = False

W, H = 1075, 1276
fig = plt.figure(figsize=(W / 100, H / 100), dpi=100)

# panel boxes in pixels: (top, bottom), legend columns / rows in pixels
boxes = [(15, 384), (441.7, 811.7), (869.3, 1237.7)]
leg_cols = [[170, 438, 705], [179, 448, 716], [179, 448, 714]]
leg_rows = [[347, 375], [774, 802], [1201, 1228]]
left_px, right_px = 82, 995
fs = 13.3

for level, series, (top, bot), cols, rows in zip(levels, panel_series, boxes, leg_cols, leg_rows):
    ax = fig.add_axes([left_px / W, 1 - bot / H, (right_px - left_px) / W, (bot - top) / H])
    names = [f'{i}N MC Sheath {level}' for i in range(1, 5)]
    df = pd.concat([to_frame(p, n, 'mc') for p, n in zip(series, names)], ignore_index=True)
    sns.lineplot(data=df, x='day', y='mc', hue='series', hue_order=names, units='seg',
                 estimator=None, sort=False, palette=dict(zip(names, colors)),
                 linewidth=2.2, legend=False, ax=ax)

    ax2 = ax.twinx()
    sns.lineplot(data=temp_df, x='day', y='t', units='seg', estimator=None, sort=False,
                 color=t_color, linewidth=1.2, alpha=0.95, legend=False, ax=ax2)

    ax.set_xlim(0, 608)
    ax.set_ylim(0, 40)
    ax2.set_ylim(-60, 40)
    ax.set_yticks(range(0, 41, 5))
    ax2.set_yticks(range(-60, 41, 10))
    ax.set_xticks(tick_days)
    ax.set_xticklabels(tick_labels)
    ax.set_xlabel('')
    ax2.set_xlabel('')

    ax.yaxis.grid(True, color='#A6A6A6', linewidth=0.9)
    ax.xaxis.grid(False)
    ax.set_axisbelow(True)
    for a in (ax, ax2):
        a.spines['top'].set_visible(False)
        for s in ('left', 'right', 'bottom'):
            a.spines[s].set_color('#BFBFBF')
            a.spines[s].set_linewidth(1.1)
    ax.tick_params(axis='y', direction='out', length=5, width=0.9, color='#BFBFBF',
                   labelsize=fs, pad=9, left=True)
    ax.tick_params(axis='x', direction='out', length=4.5, width=0.9, color='#BFBFBF',
                   labelsize=fs, pad=11, bottom=True)
    ax2.tick_params(axis='y', direction='out', length=5, width=0.9, color='#BFBFBF',
                    labelsize=fs, pad=10, labelcolor=axis_orange, right=True)

    ax.set_ylabel('Moisture Content (%)', fontsize=13.5, fontweight='bold', color='black')
    ax.yaxis.set_label_coords(-50 / 913, 0.5)
    ax2.set_ylabel('Temperature (C)', fontsize=13.5, fontweight='bold', color=axis_orange)
    ax2.yaxis.set_label_coords(1 + 58 / 913, 0.5)

    # white legend area along the bottom of the plot
    ax2.add_patch(Rectangle((0, 0), 1, 5 / 40, transform=ax2.transAxes, facecolor='white',
                            edgecolor='#A6A6A6', linewidth=0.9, zorder=2.2, clip_on=False))

    handles = {n: Line2D([], [], color=c, linewidth=2.2) for n, c in zip(names, colors)}
    handles['Exterior T'] = Line2D([], [], color=t_color, linewidth=1.6)
    entries = [(names[0], 0, 0), (names[1], 1, 0), (names[2], 2, 0),
               (names[3], 0, 1), ('Exterior T', 1, 1)]
    for label, c, r in entries:
        fig.legend(handles=[handles[label]], labels=[label], loc='center left',
                   bbox_to_anchor=(cols[c] / W, 1 - rows[r] / H), frameon=False,
                   borderpad=0, borderaxespad=0, handlelength=1.9, handletextpad=0.2,
                   fontsize=fs)

# remnant of the slide title above the charts
fig.text(313 / W, 1 + 1 / H, 'g', fontsize=68, ha='center', va='baseline', color='black')

fig.savefig('out.png', dpi=100)
